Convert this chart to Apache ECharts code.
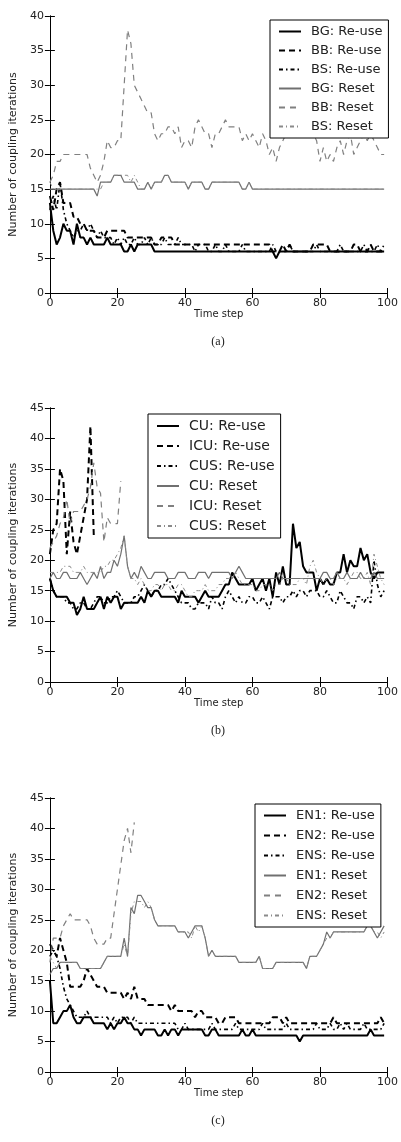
<!DOCTYPE html>
<html>
<head>
<meta charset="utf-8">
<script src="https://cdn.jsdelivr.net/npm/echarts@6/dist/echarts.min.js"></script>
<style>
  html, body { margin: 0; padding: 0; background: #fff; }
  #chart { width: 401px; height: 1142px; }
</style>
</head>
<body>
<div id="chart"></div>
<script>
// coupling iterations per time step (index = time step)

// (a) BG / BB / BS
const bgReuse = [13,9,7,8,10,9,9,7,10,8, 8,7,8,7,7,7,7,8,7,7, 7,7,6,6,7,6,7,7,7,7, 7,6,6,6,6,6,6,6,6,6,
  6,6,6,6,6,6,6,6,6,6, 6,6,6,6,6,6,6,6,6,6, 6,6,6,6,6,6,6,5,6,6, 6,6,6,6,6,6,6,6,6,6, 6,6,6,6,6,6,6,6,6,6, 6,6,6,6,6,6,6,6,6,6]
const bbReuse = [14,12,15,16,13,13,13,11,11,10, 10,9,9,9,8,8,8,9,9,9, 9,9,9,8,8,8,8,8,8,8, 8,7,7,8,8,8,8,7,7,7,
  7,7,7,7,7,7,7,7,7,7, 7,7,7,7,7,7,7,7,7,7, 7,7,7,7,7,7,6,6,6,7, 6,7,6,6,6,6,6,6,7,7, 7,7,7,6,6,6,6,6,6,6, 7,7,6,6,6,7,6,6,6,6]
const bsReuse = [12,14,12,16,12,10,9,8,9,9, 10,9,10,9,8,9,8,8,8,7, 8,7,8,7,7,8,7,7,8,7, 8,7,7,7,8,7,7,7,8,7,
  7,7,7,6,7,7,7,6,6,7, 6,6,7,6,6,6,6,7,6,6, 6,6,6,6,6,6,7,6,6,6, 6,7,6,6,6,6,6,6,6,7, 6,6,6,6,6,6,7,6,6,6, 6,6,6,7,6,6,6,7,6,7]
const bgReset = [15,15,15,15,15,15,15,15,15,15, 15,15,15,15,14,16,16,16,16,17, 17,17,16,16,16,16,15,15,15,16, 15,16,16,16,17,17,16,16,16,16,
  16,15,16,16,16,16,15,15,16,16, 16,16,16,16,16,16,16,15,15,16, 15,15,15,15,15,15,15,15,15,15, 15,15,15,15,15,15,15,15,15,15, 15,15,15,15,15,15,15,15,15,15, 15,15,15,15,15,15,15,15,15,15]
const bbReset = [16,17,19,19,20,20,20,20,20,20, 20,20,18,17,16,17,19,22,21,21, 22,22,30,38,36,30,29,28,27,26, 26,23,22,23,23,24,24,23,24,21,
  22,22,21,24,25,24,23,23,21,23, 23,24,25,24,24,24,24,22,23,22, 23,22,21,23,22,20,21,19,21,22, 23,24,23,24,23,24,24,23,23,22, 19,21,19,20,19,21,22,20,22,23, 20,21,22,23,22,23,22,21,20,20]
const bsReset = [16,15,15,15,15,15,15,15,15,15, 15,15,15,15,15,15,16,16,16,17, 17,17,17,17,16,17,16,15,15,16, 15,16,16,16,17,17,16,16,16,16,
  16,15,16,16,16,16,15,15,16,16, 16,16,16,16,16,16,16,15,15,16, 15,15,15,15,15,15,15,15,15,15, 15,15,15,15,15,15,15,15,15,15, 15,15,15,15,15,15,15,15,15,15, 15,15,15,15,15,15,15,15,15,15]

// (b) CU / ICU / CUS
const cuReuse = [17,15,14,14,14,14,13,13,11,12, 14,12,12,12,13,14,12,14,13,14, 14,12,13,13,13,13,13,14,13,15, 14,15,15,14,14,14,14,14,13,15,
  14,14,14,14,13,14,15,14,14,14, 14,15,16,16,18,17,16,16,16,16, 17,15,16,17,15,17,14,18,16,19, 16,16,26,22,23,19,18,18,18,15, 17,16,17,16,16,18,18,21,18,20, 19,19,22,20,21,18,17,18,18,18]
const icuReuse = [21,25,26,35,33,21,28,23,21,24,27,30,42,24]
const cusReuse = [17,15,14,14,14,13,13,12,12,13, 13,12,12,13,14,14,13,13,14,14, 15,14,13,13,13,14,14,15,16,15, 14,15,15,16,16,17,16,15,14,13,
  13,13,12,12,13,13,13,12,14,13, 13,12,14,15,14,13,14,13,13,14, 14,13,13,14,13,12,14,14,14,13, 14,14,15,14,15,15,14,15,15,15, 14,14,15,14,13,13,15,14,13,13, 12,14,14,13,14,13,20,16,14,15]
const cuReset = [17,18,17,17,18,18,17,17,17,18, 17,16,17,18,17,19,17,18,18,20, 19,21,24,19,17,18,17,19,18,17, 17,18,18,18,18,17,17,17,18,18,
  18,17,17,17,18,18,18,17,18,18, 18,18,18,18,17,18,19,18,17,17, 17,17,17,17,17,17,17,17,18,17, 17,17,17,17,17,17,17,17,17,17, 17,18,18,17,17,18,17,17,18,17, 17,17,18,17,17,17,18,17,17,17]
const icuReset = [22,23,24,26,27,30,26,28,28,28,29,30,32,36,32,31,23,27,26,26,26,33]
const cusReset = [18,18,18,18,19,19,19,18,18,18, 19,18,18,18,18,18,19,19,20,20, 21,22,24,19,17,17,16,17,16,15, 15,16,16,15,16,16,15,15,16,16,
  15,14,14,15,15,15,16,15,15,15, 16,16,17,17,17,18,17,16,16,16, 16,15,15,16,16,16,15,16,16,17, 17,16,16,16,17,17,16,19,20,18, 17,16,17,17,16,17,17,17,16,17, 18,18,17,17,18,16,21,19,17,16]

// (c) EN1 / EN2 / ENS
const en1Reuse = [15,8,8,9,10,10,11,9,8,8, 9,9,9,8,8,8,8,7,8,7, 8,8,9,8,8,7,7,6,7,7, 7,7,6,6,7,6,7,7,6,7,
  7,7,7,7,7,7,6,6,7,7, 6,6,6,6,6,6,6,7,6,6, 7,6,6,6,6,6,6,6,6,6, 6,6,6,6,5,6,6,6,6,6, 6,6,6,6,6,6,6,6,6,6, 6,6,6,6,6,7,6,6,6,6]
const en2Reuse = [21,20,19,22,20,18,14,14,14,14, 15,17,16,15,14,14,14,13,13,13, 13,13,12,13,12,14,12,12,12,11, 11,11,11,11,11,11,10,11,10,10,
  10,10,10,9,10,10,9,9,9,9, 8,8,9,9,9,9,8,8,8,8, 8,8,8,8,8,8,9,9,9,8, 9,8,8,8,8,8,8,8,8,8, 8,8,8,8,9,8,8,8,8,8, 8,8,8,8,8,8,8,8,9,8]
const ensReuse = [19,20,19,17,14,12,11,10,9,9, 9,10,9,9,9,9,9,9,8,9, 8,9,9,9,8,9,8,8,8,8, 8,8,8,8,8,8,8,8,7,7,
  8,7,7,7,7,7,7,7,8,7, 7,7,7,7,7,8,7,7,7,7, 7,7,7,8,7,7,7,7,7,7, 8,7,7,7,7,7,7,7,7,8, 7,7,7,8,7,7,8,7,8,7, 7,7,7,8,7,7,7,7,7,8]
const en1Reset = [16,17,17,18,18,18,18,18,18,17, 17,17,17,17,17,17,18,19,19,19, 19,19,22,19,27,26,29,29,28,27, 27,25,24,24,24,24,24,24,23,23,
  23,22,23,24,24,24,22,19,20,19, 19,19,19,19,19,19,18,18,18,18, 18,18,19,17,17,17,17,18,18,18, 18,18,18,18,18,18,17,19,19,19, 20,21,23,22,23,23,23,23,23,23, 23,23,23,23,24,24,23,22,23,24]
const en2Reset = [18,22,22,22,24,25,26,25,25,25,25,25,24,22,21,21,21,22,22,26,30,34,38,40,36,41]
const ensReset = [19,18,17,18,18,18,18,18,18,17, 17,17,17,17,17,17,18,19,19,19, 19,19,21,19,26,28,28,28,27,28, 27,25,24,24,24,24,24,24,23,23,
  23,23,22,24,23,24,22,19,20,19, 19,19,19,19,19,19,18,18,18,18, 18,18,19,17,17,17,17,18,18,18, 18,18,18,18,18,18,17,19,19,19, 20,21,22,22,23,23,23,23,23,23, 23,23,23,23,24,24,23,23,22,23]

const captions = ['(a)', '(b)', '(c)']
const yMax = [40, 45, 45]

const FONT = 'DejaVu Sans'
const chart = echarts.init(document.getElementById('chart'))

const grids = [
  { left: 35, top: 16, width: 356, height: 277 },
  { left: 35, top: 408, width: 356, height: 274 },
  { left: 35, top: 798, width: 356, height: 274 }
]

// line looks, matplotlib-ish
const styles = {
  reuseSolid: { color: '#000', width: 2, type: 'solid' },
  reuseDash: { color: '#000', width: 2, type: [6, 4] },
  reuseDot: { color: '#000', width: 1.6, type: [4, 3, 1.5, 3] },
  resetSolid: { color: '#707070', width: 1.2, type: 'solid' },
  resetDash: { color: '#808080', width: 1.2, type: [6, 5] },
  resetDot: { color: '#8a8a8a', width: 1, type: [4, 3, 1, 3] }
}

const pairs = arr => arr.map((v, i) => [i, v])

function line (name, data, style, panel) {
  return {
    name: name,
    type: 'line',
    xAxisIndex: panel * 2,
    yAxisIndex: panel * 2,
    data: pairs(data),
    symbol: 'none',
    showSymbol: false,
    color: style.color,
    lineStyle: style,
    emphasis: { disabled: true }
  }
}

const panels = [
  [['BG: Re-use', bgReuse, 'reuseSolid'], ['BB: Re-use', bbReuse, 'reuseDash'], ['BS: Re-use', bsReuse, 'reuseDot'],
   ['BG: Reset', bgReset, 'resetSolid'], ['BB: Reset', bbReset, 'resetDash'], ['BS: Reset', bsReset, 'resetDot']],
  [['CU: Re-use', cuReuse, 'reuseSolid'], ['ICU: Re-use', icuReuse, 'reuseDash'], ['CUS: Re-use', cusReuse, 'reuseDot'],
   ['CU: Reset', cuReset, 'resetSolid'], ['ICU: Reset', icuReset, 'resetDash'], ['CUS: Reset', cusReset, 'resetDot']],
  [['EN1: Re-use', en1Reuse, 'reuseSolid'], ['EN2: Re-use', en2Reuse, 'reuseDash'], ['ENS: Re-use', ensReuse, 'reuseDot'],
   ['EN1: Reset', en1Reset, 'resetSolid'], ['EN2: Reset', en2Reset, 'resetDash'], ['ENS: Reset', ensReset, 'resetDot']]
]

const legendPos = [
  { left: 270, top: 20, fontSize: 13, itemGap: 6 },
  { left: 148, top: 414, fontSize: 14, itemGap: 6 },
  { left: 255, top: 804, fontSize: 13, itemGap: 7 }
]

const xAxes = [], yAxes = [], series = [], legends = [], titles = []

const tick = { show: true, inside: true, length: 5, lineStyle: { color: '#000', width: 1 } }
const axLine = { show: true, lineStyle: { color: '#000', width: 1 } }

panels.forEach((p, i) => {
  xAxes.push({
    gridIndex: i, type: 'value', min: 0, max: 100, interval: 20,
    axisLine: axLine, axisTick: tick, splitLine: { show: false },
    axisLabel: { fontSize: 11, color: '#222', margin: 5, fontFamily: FONT },
    name: 'Time step', nameLocation: 'middle', nameGap: 14,
    nameTextStyle: { fontSize: 10, color: '#222', fontFamily: FONT }
  })
  xAxes.push({
    gridIndex: i, type: 'value', position: 'top', min: 0, max: 100, interval: 20,
    axisLine: axLine, axisTick: tick, splitLine: { show: false }, axisLabel: { show: false }
  })
  yAxes.push({
    gridIndex: i, type: 'value', min: 0, max: yMax[i], interval: 5,
    axisLine: axLine, axisTick: tick, splitLine: { show: false },
    axisLabel: { fontSize: 11, color: '#222', margin: 6, fontFamily: FONT },
    name: 'Number of coupling iterations', nameLocation: 'middle', nameGap: 24,
    nameTextStyle: { fontSize: 11, color: '#222', fontFamily: FONT }
  })
  yAxes.push({
    gridIndex: i, type: 'value', position: 'right', min: 0, max: yMax[i], interval: 5,
    axisLine: axLine, axisTick: tick, splitLine: { show: false }, axisLabel: { show: false }
  })

  p.forEach(s => series.push(line(s[0], s[1], styles[s[2]], i)))

  const lp = legendPos[i]
  legends.push({
    data: p.map(s => s[0]),
    orient: 'vertical',
    left: lp.left, top: lp.top,
    itemWidth: 22, itemHeight: lp.fontSize, itemGap: lp.itemGap,
    padding: [5, 6, 5, 8],
    backgroundColor: '#fff', borderColor: '#000', borderWidth: 1,
    selectedMode: false,
    itemStyle: { opacity: 0 },
    textStyle: { fontSize: lp.fontSize, color: '#222', fontFamily: FONT, padding: [0, 0, 0, 5] }
  })

  const g = grids[i]
  titles.push({
    text: captions[i],
    left: g.left + g.width / 2, top: g.top + g.height + 38,
    textAlign: 'center',
    textStyle: { fontSize: 12, fontWeight: 'normal', color: '#222', fontFamily: 'Liberation Serif' }
  })
})

chart.setOption({
  animation: false,
  backgroundColor: '#fff',
  title: titles,
  grid: grids,
  xAxis: xAxes,
  yAxis: yAxes,
  legend: legends,
  series: series
})
</script>
</body>
</html>
